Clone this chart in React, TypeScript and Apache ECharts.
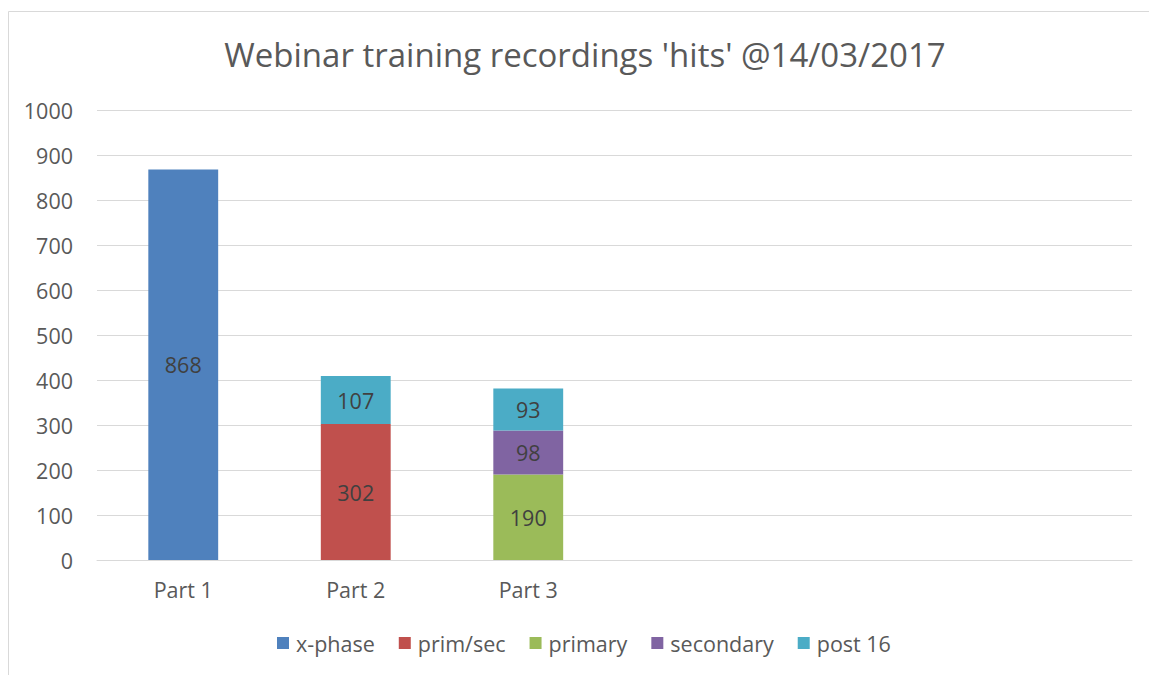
import React, { useEffect, useRef } from "react";
import * as echarts from "echarts";

const categories = ["Part 1", "Part 2", "Part 3", "", "", ""];
const xPhase = [868, null, null, null, null, null];
const primSec = [null, 302, null, null, null, null];
const primary = [null, null, 190, null, null, null];
const secondary = [null, null, 98, null, null, null];
const post16 = [null, 107, 93, null, null, null];
const seriesNames = ["x-phase", "prim/sec", "primary", "secondary", "post 16"];
const seriesColors = ["#4F81BD", "#C0504D", "#9BBB59", "#8064A2", "#4BACC6"];
const titleText = "Webinar training recordings 'hits' @14/03/2017";

const FONT = "'Open Sans', 'Noto Sans', sans-serif";

export default function App() {
  const ref = useRef<HTMLDivElement>(null);
  useEffect(() => {
    if (!ref.current) return;
    const chart = echarts.init(ref.current, null, { renderer: "svg" });
    const data = [xPhase, primSec, primary, secondary, post16];
    chart.setOption({
      animation: false,
      backgroundColor: "#ffffff",
      textStyle: { fontFamily: FONT },
      title: {
        text: titleText,
        left: 580,
        textAlign: "center",
        top: 33,
        textStyle: { fontFamily: FONT, fontSize: 33, fontWeight: "normal", color: "#595959" },
      },
      graphic: [
        {
          type: "rect",
          shape: { x: 8.5, y: 11.5, width: 1300, height: 800 },
          style: { fill: "none", stroke: "#D9D9D9", lineWidth: 1 },
          silent: true,
        },
      ],
      legend: {
        bottom: 16,
        left: 272,
        width: 860,
        itemWidth: 12,
        itemHeight: 12,
        itemGap: 24,
        icon: "rect",
        textStyle: { fontFamily: FONT, fontSize: 21.5, color: "#595959", padding: [0, 0, 0, 2] },
        data: seriesNames,
      },
      grid: { left: 97, right: 17, top: 110, bottom: 115, containLabel: false },
      xAxis: {
        type: "category",
        data: categories,
        axisLine: { lineStyle: { color: "#D9D9D9", width: 1 } },
        axisTick: { show: false },
        axisLabel: { color: "#595959", fontSize: 21.5, fontFamily: FONT, margin: 18 },
      },
      yAxis: {
        type: "value",
        min: 0,
        max: 1000,
        interval: 100,
        axisLine: { show: false },
        axisTick: { show: false },
        splitLine: { lineStyle: { color: "#D9D9D9", width: 1 } },
        axisLabel: {
          color: "#595959",
          fontSize: 21.5,
          fontFamily: FONT,
          margin: 24,
          formatter: (v: number) => String(v),
        },
      },
      series: seriesNames.map((name, i) => ({
        name,
        type: "bar",
        stack: "total",
        barWidth: "40.5%",
        data: data[i],
        itemStyle: { color: seriesColors[i] },
        label: {
          show: true,
          position: "inside",
          color: "#404040",
          fontSize: 21.5,
          fontFamily: FONT,
        },
      })),
    });
    return () => chart.dispose();
  }, []);
  return (
    <div
      ref={ref}
      style={{ position: "fixed", left: 0, top: 0, width: 1149, height: 675 }}
    />
  );
}
